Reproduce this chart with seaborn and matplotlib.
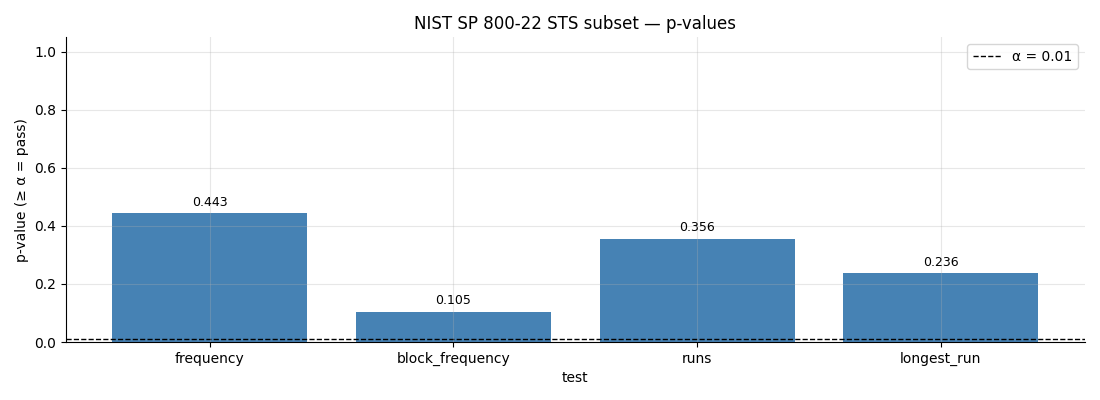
import matplotlib
matplotlib.use("Agg")
import matplotlib.pyplot as plt
import seaborn as sns
import pandas as pd

tests = ["frequency", "block_frequency", "runs", "longest_run"]
p_values = [0.443, 0.105, 0.356, 0.236]
alpha = 0.01

plt.rcParams["font.family"] = ["DejaVu Sans"]

df = pd.DataFrame({"test": tests, "p": p_values})
fig, ax = plt.subplots(figsize=(11, 4), dpi=100)
sns.barplot(data=df, x="test", y="p", color="#4682B4", saturation=1, width=0.8,
            linewidth=0, edgecolor="none", ax=ax)
for c in ax.containers:
    ax.bar_label(c, labels=[f"{v:.3f}" for v in p_values], padding=3, fontsize=9)
ax.axhline(alpha, color="black", linestyle="--", linewidth=1, label=f"α = {alpha}")
ax.set_ylim(0, 1.05)
ax.set_xlim(-0.59, 3.59)
ax.set_axisbelow(False)
ax.grid(True, alpha=0.3)
ax.set_xlabel("test")
ax.set_ylabel("p-value (≥ α = pass)")
ax.set_title("NIST SP 800-22 STS subset — p-values")
ax.legend(loc="upper right")
sns.despine(ax=ax)
fig.subplots_adjust(left=0.06, right=0.986, top=0.907, bottom=0.145)
fig.savefig("out.png")
